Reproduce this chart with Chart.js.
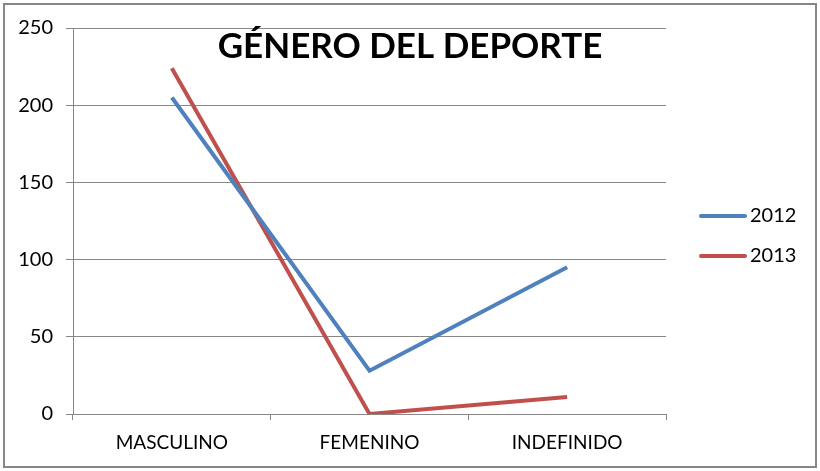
<!DOCTYPE html>
<html>
<head>
<meta charset="utf-8">
<script src="https://cdn.jsdelivr.net/npm/chart.js@4.4.0/dist/chart.umd.min.js"></script>
<style>
  html, body { margin: 0; padding: 0; background: #fff; }
  #wrap { width: 820px; height: 471px; }
</style>
</head>
<body>
<div id="wrap"><canvas id="chartGenero" width="820" height="471"></canvas></div>
<script>
var categories = ["MASCULINO", "FEMENINO", "INDEFINIDO"];
var values2012 = [205, 28, 95];
var values2013 = [224, 0, 11];
var seriesNames = ["2012", "2013"];
var chartTitle = "GÉNERO DEL DEPORTE";

var fontName = "Lato, 'Open Sans', sans-serif";

// title sits inside the plot, legend drawn by hand so spacing matches
var extrasPlugin = {
    id: "extras",
    afterDraw: function(chart){
        var ctx = chart.ctx;
        ctx.save();
        ctx.strokeStyle = "#878787";
        ctx.lineWidth = 2;
        ctx.strokeRect(4, 4, 812, 463);

        ctx.fillStyle = "#000";
        ctx.font = "bold 35px " + fontName;
        ctx.textAlign = "center";
        ctx.textBaseline = "middle";
        ctx.fillText(chartTitle, 410, 47);

        var sets = chart.data.datasets;
        ctx.font = "20px " + fontName;
        ctx.textAlign = "left";
        for(var i = 0; i < sets.length; i++){
            var y = 216 + i * 40;
            ctx.strokeStyle = sets[i].borderColor;
            ctx.lineWidth = 4;
            ctx.lineCap = "round";
            ctx.beginPath();
            ctx.moveTo(701, y);
            ctx.lineTo(745, y);
            ctx.stroke();
            ctx.fillStyle = "#000";
            ctx.fillText(sets[i].label, 750, y);
        }
        ctx.restore();
    }
};

var ctx = document.getElementById("chartGenero").getContext("2d");
var config = {
    type: "line",
    data: {
        labels: categories,
        datasets: [{
            label: seriesNames[0],
            data: values2012,
            borderColor: "#4F81BD",
            backgroundColor: "#4F81BD",
            borderWidth: 4,
            pointRadius: 0,
            tension: 0
        },{
            label: seriesNames[1],
            data: values2013,
            borderColor: "#C0504D",
            backgroundColor: "#C0504D",
            borderWidth: 4,
            pointRadius: 0,
            tension: 0
        }]
    },
    options: {
        responsive: false,
        animation: false,
        layout: { padding: { top: 28, right: 154, bottom: 0, left: 0 } },
        plugins: {
            legend: { display: false },
            title: { display: false },
            tooltip: { enabled: false }
        },
        scales: {
            x: {
                offset: true,
                grid: { offset: true, drawOnChartArea: false, drawTicks: true, tickLength: 6, color: "#878787" },
                border: { color: "#878787" },
                ticks: { color: "#000", font: { family: fontName, size: 19 }, padding: 11, maxRotation: 0 },
                afterFit: function(scale){ scale.height = 57; }
            },
            y: {
                min: 0,
                max: 250,
                ticks: { stepSize: 50, color: "#000", font: { family: fontName, size: 20 }, padding: 13 },
                grid: { color: "#878787", tickLength: 7 },
                border: { color: "#878787" },
                afterFit: function(scale){ scale.width = 73; }
            }
        }
    },
    plugins: [extrasPlugin]
};

var chartGenero = new Chart(ctx, config);
</script>
</body>
</html>
